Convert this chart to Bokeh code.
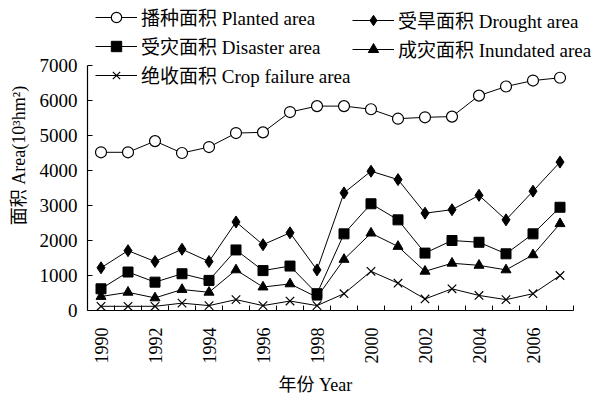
import math
from bokeh.plotting import figure
from bokeh.models import FixedTicker, Legend, LegendItem, Range1d, ColumnDataSource, Title
from bokeh.embed import file_html
from bokeh.resources import INLINE

years = list(range(1990, 2008))
planted = [4520, 4520, 4840, 4500, 4670, 5070, 5090, 5670, 5840, 5840,
           5750, 5480, 5520, 5540, 6140, 6400, 6570, 6650]
drought = [1220, 1710, 1400, 1750, 1400, 2530, 1880, 2220, 1160, 3360,
           3980, 3740, 2780, 2880, 3290, 2590, 3410, 4240]
disaster = [620, 1100, 810, 1050, 860, 1730, 1140, 1270, 480, 2190,
            3050, 2590, 1640, 2000, 1950, 1620, 2190, 2950]
inundated = [400, 520, 360, 600, 520, 1160, 670, 760, 380, 1460,
             2210, 1830, 1120, 1350, 1290, 1160, 1590, 2480]
failure = [120, 120, 120, 210, 140, 310, 140, 270, 140, 480,
           1120, 780, 330, 620, 430, 310, 480, 1000]

labels = ["播种面积 Planted area", "受旱面积 Drought area", "受灾面积 Disaster area",
          "成灾面积 Inundated area", "绝收面积 Crop failure area"]
tick_years = [1990, 1992, 1994, 1996, 1998, 2000, 2002, 2004, 2006]
y_ticks = [0, 1000, 2000, 3000, 4000, 5000, 6000, 7000]
x_title = "年份 Year"
y_title = "面积 Area(10³hm²)"

FONT = "Liberation Serif, Noto Sans CJK SC"

# frame covers the whole canvas (minus axes) so the legend above 7000 / right of 2007 is not clipped
y_top = 7000 + 65 / 245 * 7000
x_end = 2007.5 + 21 / 27
p = figure(width=594, height=389, output_backend="svg", toolbar_location=None,
           x_range=Range1d(1989.5, x_end), y_range=Range1d(0, y_top),
           min_border_left=87, min_border_right=0, min_border_top=0, min_border_bottom=79,
           frame_width=507, frame_height=310)
p.outline_line_color = None
p.xgrid.visible = False
p.ygrid.visible = False
p.background_fill_color = "white"
p.border_fill_color = "white"

src = ColumnDataSource(dict(x=years, planted=planted, drought=drought, disaster=disaster,
                            inundated=inundated, failure=failure))

l1 = p.line("x", "planted", source=src, line_color="black", line_width=1)
s1 = p.scatter("x", "planted", source=src, marker="circle", size=11,
               fill_color="white", line_color="black", line_width=1.2)
l2 = p.line("x", "drought", source=src, line_color="black", line_width=1)
s2 = p.scatter("x", "drought", source=src, marker="diamond", size=12,
               fill_color="black", line_color="black")
l3 = p.line("x", "disaster", source=src, line_color="black", line_width=1)
s3 = p.scatter("x", "disaster", source=src, marker="square", size=10,
               fill_color="black", line_color="black")
l4 = p.line("x", "inundated", source=src, line_color="black", line_width=1)
s4 = p.scatter("x", "inundated", source=src, marker="triangle", size=10,
               fill_color="black", line_color="black")
l5 = p.line("x", "failure", source=src, line_color="black", line_width=1)
s5 = p.scatter("x", "failure", source=src, marker="x", size=12,
               line_color="black", line_width=1.2)

# axes
p.xaxis.ticker = FixedTicker(ticks=tick_years, minor_ticks=[y + 0.5 for y in years])
p.xaxis.bounds = (1989.5, 2007.5)
p.xaxis.major_tick_in = 0
p.xaxis.major_tick_out = 0
p.xaxis.minor_tick_in = 5
p.xaxis.minor_tick_out = 0
p.xaxis.major_label_orientation = math.pi / 2
p.xaxis.major_label_standoff = 17

p.yaxis.ticker = FixedTicker(ticks=y_ticks)
p.yaxis.bounds = (0, 7000)
p.yaxis.major_tick_in = 5
p.yaxis.major_tick_out = 0
p.yaxis.major_label_standoff = 10
p.yaxis.axis_label = y_title
p.yaxis.axis_label_standoff = 8

for ax in (p.xaxis[0], p.yaxis[0]):
    ax.axis_line_color = "black"
    ax.axis_line_width = 1.2
    ax.major_tick_line_color = "black"
    ax.minor_tick_line_color = "black" if ax is p.xaxis[0] else None
    ax.major_label_text_font = FONT
    ax.major_label_text_color = "black"
    ax.axis_label_text_font = FONT
    ax.axis_label_text_font_size = "18px"
    ax.axis_label_text_font_style = "normal"
    ax.axis_label_text_color = "black"
p.xaxis.major_label_text_font_size = "18px"
p.yaxis.major_label_text_font_size = "19px"

xt = Title(text=x_title, align="left", offset=191, standoff=12,
           text_font=FONT, text_font_size="18px", text_font_style="normal",
           text_color="black")
p.add_layout(xt, "below")

def make_legend(items, vx, vy):
    lg = Legend(items=items, location=(vx, vy), padding=0, margin=0,
                border_line_color=None, background_fill_alpha=0,
                glyph_width=42, glyph_height=26, label_height=26, spacing=2,
                label_standoff=4, label_text_font=FONT, label_text_font_size="19px",
                label_text_color="black")
    return lg

leg1 = make_legend([LegendItem(label=labels[0], renderers=[l1, s1]),
                    LegendItem(label=labels[2], renderers=[l3, s3]),
                    LegendItem(label=labels[4], renderers=[l5, s5])], 8, 222)
leg2 = make_legend([LegendItem(label=labels[1], renderers=[l2, s2]),
                    LegendItem(label=labels[3], renderers=[l4, s4])], 265, 248)
p.add_layout(leg1, "center")
p.add_layout(leg2, "center")

open("out.html", "w").write(file_html(p, INLINE))
